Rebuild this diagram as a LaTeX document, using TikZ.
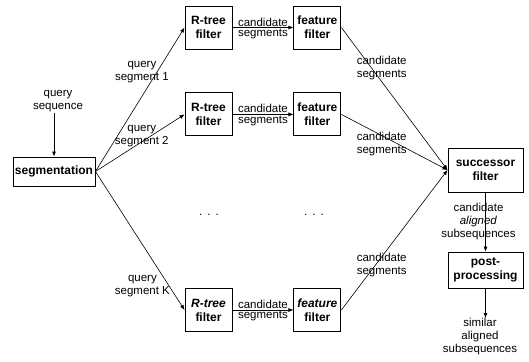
\documentclass[tikz,border=0pt]{standalone}
\usepackage{fontspec}
\setmainfont{Liberation Sans}
\usetikzlibrary{arrows.meta, positioning}
\tikzset{
    txt/.style={
        font=\fontsize{11.5}{13}\selectfont,
        align=center, inner sep=1pt
    },
    stage/.style={
        rectangle, draw, line width=0.9pt,
        font=\bfseries\fontsize{12}{14}\selectfont,
        align=center, inner sep=1pt
    },
    filt/.style={
        stage,
        minimum width=47pt,
        minimum height=43pt
    },
    conn/.style={
        line width=0.6pt,
        -{Latex[length=5pt, width=4pt]},
    },
}

\begin{document}
\begin{tikzpicture}[x=1pt, y=-1pt]
        \useasboundingbox (0,0) rectangle (529,361);

        \node[stage, minimum width=82pt, minimum height=29pt] (seg) at (54,171.5) {segmentation};
        \node[txt] (qseq) at (58,101) {query\\sequence};

        \node[filt] (rt1) at (208.5,27.5) {R-tree\\filter};
        \node[filt, below=43pt of rt1] (rt2) {R-tree\\filter};
        \node[filt] (rtk) at (208.5,310) {\textit{R-tree}\\filter};

        \node[filt, right=61pt of rt1] (fe1) {feature\\filter};
        \node[filt, right=61pt of rt2] (fe2) {feature\\filter};
        \node[filt, right=61pt of rtk] (fek) {\textit{feature}\\filter};

        \node[txt] (dots1) at (209,215) {.\hspace{5pt}.\hspace{5pt}.};
        \node[txt] (dots2) at (314,215) {.\hspace{5pt}.\hspace{5pt}.};

        \node[stage, minimum width=75pt, minimum height=44pt] (succ) at (485.5,170) {successor\\filter};
        \node[stage, minimum width=75pt, minimum height=36pt] (post) at (485.5,270) {post-\\processing};
        \coordinate (out) at (485.5,318);
        \node[txt, anchor=north] (res) at (480,317) {similar\\aligned\\subsequences};

        \draw[conn] (qseq.south -| seg) -- (seg);

        \draw[conn] (seg.east) -- node[txt, pos=0.69, xshift=-15pt] {query\\segment 1} (rt1.west);
        \draw[conn] (seg.east) -- node[txt, pos=0.52, yshift=6pt] {query\\segment 2} (rt2.west);
        \draw[conn] (seg.east) -- node[txt, pos=0.83, xshift=-27pt] {query\\segment K} (rtk.west);

        \foreach \r in {1, 2, k}
            \draw[conn] (rt\r) -- node[txt, above] {candidate} node[txt, below] {segments} (fe\r);

        \draw[conn] (fe1.east) -- node[txt, pos=0.38, yshift=13.5pt] {candidate\\segments} (succ.west);
        \draw[conn] (fe2.east) -- node[txt, pos=0.38, yshift=-8.5pt] {candidate\\segments} (succ.west);
        \draw[conn] (fek.east) -- node[txt, pos=0.38, yshift=-8.5pt] {candidate\\segments} (succ.west);

        \draw[conn] (succ) -- node[txt, xshift=-7pt] {candidate\\\textit{aligned}\\subsequences} (post);
        \draw[conn] (post) -- (out);
    \end{tikzpicture}
\end{document}
